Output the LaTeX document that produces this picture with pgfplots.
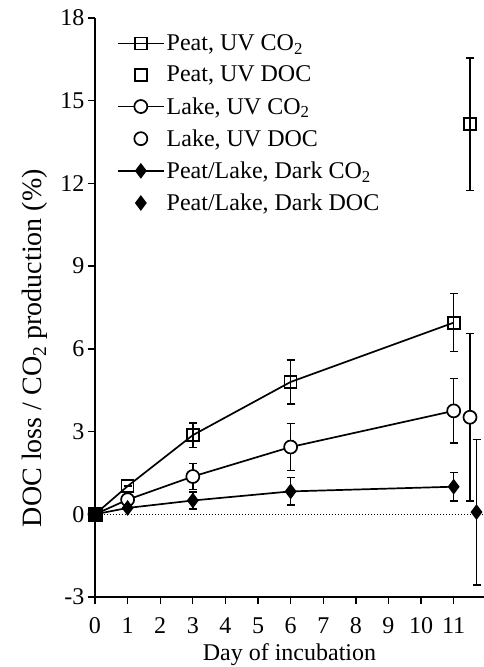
\documentclass[border=0pt]{standalone}
\usepackage{fontspec}
\setmainfont{Liberation Serif}
\usepackage{pgfplots}
\pgfplotsset{compat=1.18}
\newcommand{\bigf}{\fontsize{24}{28}\selectfont}
\newcommand{\labf}{\fontsize{28}{32}\selectfont}
\pgfplotsset{
  lineleg/.style={/pgfplots/legend image code/.code={\draw[mark repeat=2,mark phase=2,##1] plot coordinates {(0pt,0pt) (23pt,0pt) (46pt,0pt)};}},
  markleg/.style={/pgfplots/legend image code/.code={\draw[mark repeat=2,mark phase=2,##1,only marks] plot coordinates {(0pt,0pt) (23pt,0pt) (46pt,0pt)};}},
  ebar/.style={/pgfplots/error bars/.cd, y dir=both, y explicit, error bar style={line width=1.5pt}, error mark options={rotate=90, mark size=4pt, line width=1.5pt}, /pgfplots/.cd},
}
\begin{document}
\begin{tikzpicture}
\begin{axis}[
  scale only axis, width=389pt, height=579pt,
  xmin=0, xmax=11.93, ymin=-3, ymax=18,
  axis x line=bottom, axis y line=left,
  axis line style={-, line width=1.3pt},
  every tick/.style={black, line width=1.3pt},
  tick align=outside, major tick length=7pt,
  xtick={0,1,...,11}, ytick={-3,0,3,6,9,12,15,18},
  /pgf/number format/assume math mode=true,
  tick label style={font=\bigf},
  xticklabel style={yshift=-10pt},
  xlabel style={font=\bigf},
  ylabel style={font=\labf},
  xlabel={Day of incubation},
  ylabel={DOC loss / CO\textsubscript{2} production (\%)},
  xlabel style={at={(axis description cs:0.5,-0.1)}, anchor=center},
  ylabel style={at={(axis description cs:-0.154,0.43)}, anchor=center, rotate=0},
  clip=false,
  legend cell align=left,
  legend style={at={(axis description cs:0.056,0.975)}, anchor=north west, draw=none, fill=none, font=\bigf, row sep=10pt, inner sep=0pt},
]
\addplot[black, dotted, line width=1pt, forget plot] coordinates {(0,0) (11.93,0)};
% Peat UV CO2
\addplot[black, line width=1.7pt, mark=square, mark size=6pt, mark options={fill=white, solid}, lineleg, ebar] coordinates {
(0,0) +- (0,0)
(1,1.02) +- (0,0)
(3,2.87) +- (0,0.44)
(6,4.8) +- (0,0.8)
(11,6.95) +- (0,1.05)
};
\addlegendentry{Peat, UV CO\textsubscript{2}}
% Peat UV DOC
\addplot[black, line width=1.7pt, only marks, mark=square, mark size=6pt, mark options={fill=white}, markleg, ebar] coordinates {
(11.5,14.15) +- (0,2.4)
};
\addlegendentry{Peat, UV DOC}
% Lake UV CO2
\addplot[black, line width=1.7pt, mark=*, mark size=6.5pt, mark options={fill=white}, lineleg, ebar] coordinates {
(0,0) +- (0,0)
(1,0.53) +- (0,0)
(3,1.37) +- (0,0.47)
(6,2.44) +- (0,0.85)
(11,3.75) +- (0,1.17)
};
\addlegendentry{Lake, UV CO\textsubscript{2}}
% Lake UV DOC
\addplot[black, line width=1.7pt, only marks, mark=*, mark size=6.5pt, mark options={fill=white}, markleg, ebar] coordinates {
(11.5,3.52) +- (0,3.04)
};
\addlegendentry{Lake, UV DOC}
% Dark CO2
\addplot[black, line width=1.7pt, mark=diamond*, mark size=6.5pt, mark options={fill=black}, lineleg, ebar] coordinates {
(0,0) +- (0,0)
(1,0.23) +- (0,0)
(3,0.5) +- (0,0.31)
(6,0.83) +- (0,0.5)
(11,1.0) +- (0,0.51)
};
\addlegendentry{Peat/Lake, Dark CO\textsubscript{2}}
% Dark DOC
\addplot[black, line width=1.7pt, only marks, mark=diamond*, mark size=6.5pt, mark options={fill=black}, markleg, ebar] coordinates {
(11.7,0.08) +- (0,2.64)
};
\addlegendentry{Peat/Lake, Dark DOC}
\addplot[black, only marks, mark=square*, mark size=7pt, mark options={fill=black}, forget plot] coordinates {(0,0)};
\end{axis}
\pgfresetboundingbox
\path (-95pt,-70pt) rectangle (389pt,597pt);
\end{tikzpicture}
\end{document}
